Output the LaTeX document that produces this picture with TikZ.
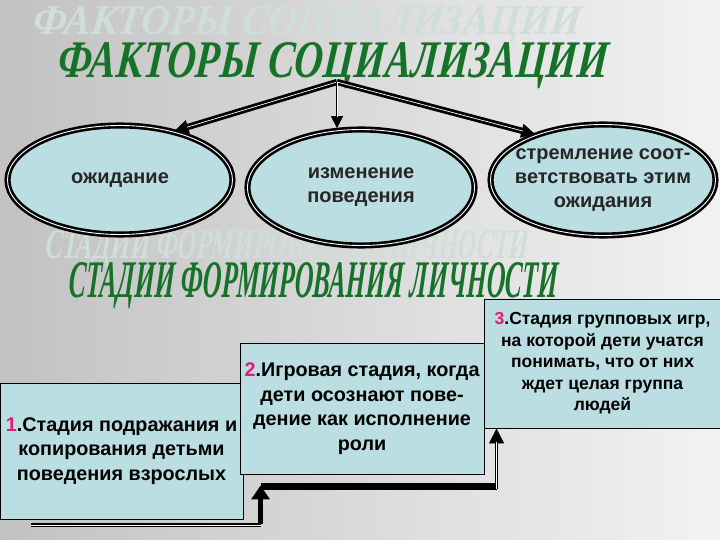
\documentclass[tikz,border=0pt]{standalone}
\usepackage{fontspec}
\setmainfont{Liberation Sans}
\newfontfamily\titlefont{Liberation Serif}[BoldItalicFeatures={FakeSlant=0.12}]
\usetikzlibrary{arrows.meta,positioning,calc,shapes.geometric}

\definecolor{titlegreen}{RGB}{22,114,40}
\definecolor{ghostgreen}{RGB}{208,222,219}
\definecolor{cellblue}{RGB}{187,222,226}
\definecolor{numpink}{RGB}{228,28,112}
\newcommand{\bigtitle}[3]{\resizebox{#1}{#2}{\titlefont\bfseries\itshape #3}}

\begin{document}
\begin{tikzpicture}[x=1pt, y=-1pt,
    title/.style={inner sep=0pt, anchor=base west, text=titlegreen},
    ghost/.style={title, text=ghostgreen},
    factor/.style={draw, ellipse, fill=cellblue, line width=2.6pt, double=white, double distance=0.9pt,
      inner xsep=-20pt, inner ysep=-10pt, align=center, text=black!85,
      font=\fontsize{20}{24}\selectfont\bfseries},
    stagebox/.style={draw, line width=0.9pt, fill=cellblue, inner sep=0pt, align=center},
    tip/.style={line width=0.6pt, -{Triangle[length=#1, width=#1]}},
    dbl/.style={line width=#1, double=white, double distance=0.7pt},
    fatarr/.style={line width=5pt, -{Triangle[length=14pt, width=18pt]}},
]
    % background
    \shade[left color=black!24, middle color=black!8, right color=black!5] (0,0) rectangle (720,540);
    \useasboundingbox (0,0) rectangle (720,540);

    % titles with their pale shadows
    \node[ghost] (ghost1) at (32,35) {\bigtitle{548pt}{28pt}{ФАКТОРЫ СОЦИАЛИЗАЦИИ}};
    \node[ghost] (ghost2) at (45,258) {\bigtitle{483pt}{28pt}{СТАДИИ ФОРМИРОВАНИЯ ЛИЧНОСТИ}};
    \node[title] (factors) at (57,78) {\bigtitle{550pt}{35pt}{ФАКТОРЫ СОЦИАЛИЗАЦИИ}};
    \node[title] (stages) at (68,297) {\bigtitle{489pt}{35pt}{СТАДИИ ФОРМИРОВАНИЯ ЛИЧНОСТИ}};

    % factors
    \node[factor, minimum width=225pt, minimum height=109pt] (expect) at (120,180) {ожидание};
    \node[factor, minimum width=227pt, minimum height=116pt] (change) at (361,187.5) {изменение\\поведения};
    \node[factor, minimum width=225pt, minimum height=111pt] (strive) at (603,180) {стремление соот-\\ветствовать этим\\ожидания};

    \coordinate (apex) at (337,82);
    \draw[tip=14pt] (apex) -- (expect.42);
    \draw[dbl=2.8pt, shorten >=13pt] (apex) -- (expect.42);
    \draw[tip=14pt] (apex) -- (strive.146);
    \draw[dbl=2.8pt, shorten >=13pt] (apex) -- (strive.146);
    \draw[tip=12pt] (apex) -- (change.north -| apex);
    \draw[dbl=1.1pt, shorten >=11pt] (apex) -- (change.north -| apex);

    % stages
    \node[stagebox, minimum width=243pt, minimum height=136pt, font=\fontsize{19.8}{24.5}\selectfont\bfseries] (stage1) at (121.5,451)
        {\textcolor{numpink}{1}.Стадия подражания и\\копирования детьми\\поведения взрослых};
    \node[stagebox, minimum width=244pt, minimum height=131pt, font=\fontsize{19.8}{24.5}\selectfont\bfseries] (stage2) at (362,408.5)
        {\textcolor{numpink}{2}.Игровая стадия, когда\\дети осознают пове-\\дение как исполнение\\роли};
    \node[stagebox, minimum width=237pt, minimum height=129pt, font=\fontsize{17.5}{21.5}\selectfont\bfseries] (stage3) at (602.5,363.5)
        {\textcolor{numpink}{3}.Стадия групповых игр,\\на которой дети учатся\\понимать, что от них\\ждет целая группа\\людей};

    \coordinate (start) at (31,525);
    \coordinate (tipA) at ([xshift=21pt, yshift=-11pt]stage2.south west);
    \coordinate (tipB) at ([xshift=13pt]stage3.south west);
    \draw[dbl=1.3pt] (start) -- (start -| tipA);
    \draw[fatarr] ([yshift=1.5pt]start -| tipA) -- (tipA);
    \draw[line width=7pt] ([yshift=-1pt]tipA) -- ([yshift=-1pt]tipA -| tipB);
    \draw[tip=15pt] ([yshift=-4pt]tipA -| tipB) -- (tipB);
    \draw[dbl=1.3pt, shorten >=14pt] ([yshift=-4pt]tipA -| tipB) -- (tipB);
\end{tikzpicture}
\end{document}
